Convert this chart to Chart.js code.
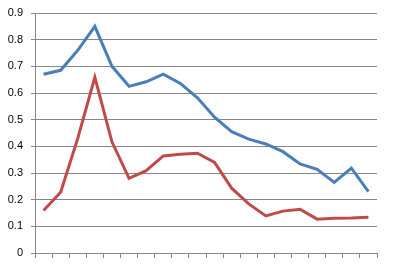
<!DOCTYPE html>
<html>
<head>
<meta charset="utf-8">
<script src="https://cdn.jsdelivr.net/npm/chart.js@4"></script>
<style>
  html, body { margin: 0; padding: 0; background: #fff; }
  #wrap { width: 394px; height: 264px; }
</style>
</head>
<body>
<div id="wrap"><canvas id="lineChart" width="394" height="264"></canvas></div>
<script>
// categories (the x axis shows no labels, only tick marks)
const categories = ['1', '2', '3', '4', '5', '6', '7', '8', '9', '10',
  '11', '12', '13', '14', '15', '16', '17', '18', '19', '20'];

const blueSeries = [0.67, 0.685, 0.76, 0.85, 0.70, 0.625, 0.642, 0.671, 0.636, 0.582,
  0.509, 0.455, 0.427, 0.409, 0.38, 0.334, 0.314, 0.265, 0.318, 0.23];

const redSeries = [0.159, 0.228, 0.43, 0.659, 0.417, 0.28, 0.309, 0.364, 0.37, 0.374,
  0.34, 0.243, 0.184, 0.139, 0.157, 0.164, 0.127, 0.13, 0.131, 0.134];

const yMin = 0;
const yMax = 0.9;
const yStep = 0.1;

const gridGray = '#868686';

const ctx = document.getElementById('lineChart').getContext('2d');
new Chart(ctx, {
  type: 'line',
  data: {
    labels: categories,
    datasets: [
      {
        label: 'Series 1',
        data: blueSeries,
        borderColor: '#4A7EBB',
        borderWidth: 3,
        pointRadius: 0,
        tension: 0,
        fill: false
      },
      {
        label: 'Series 2',
        data: redSeries,
        borderColor: '#BE4B48',
        borderWidth: 3,
        pointRadius: 0,
        tension: 0,
        fill: false
      }
    ]
  },
  options: {
    responsive: false,
    animation: false,
    layout: { padding: { top: 13, right: 17, left: 0, bottom: 0 } },
    plugins: {
      legend: { display: false },
      tooltip: { enabled: false }
    },
    scales: {
      x: {
        offset: true,
        grid: {
          offset: true,
          drawOnChartArea: false,
          tickLength: 5,
          color: gridGray
        },
        border: { color: gridGray },
        ticks: { display: false },
        afterFit: (scale) => {
          scale.height = 11;
          scale.paddingLeft = 0;
          scale.paddingRight = 0;
        }
      },
      y: {
        min: yMin,
        max: yMax,
        grid: {
          color: gridGray,
          tickLength: 4
        },
        border: { color: gridGray },
        ticks: {
          stepSize: yStep,
          padding: 8,
          color: '#000',
          font: { family: 'Liberation Sans', size: 11 },
          callback: (v) => String(Math.round(v * 10) / 10)
        },
        // pin the plot area where the reference has it
        afterFit: (scale) => {
          scale.width = 35;
          scale.paddingTop = 0;
          scale.paddingBottom = 0;
        }
      }
    }
  }
});
</script>
</body>
</html>
